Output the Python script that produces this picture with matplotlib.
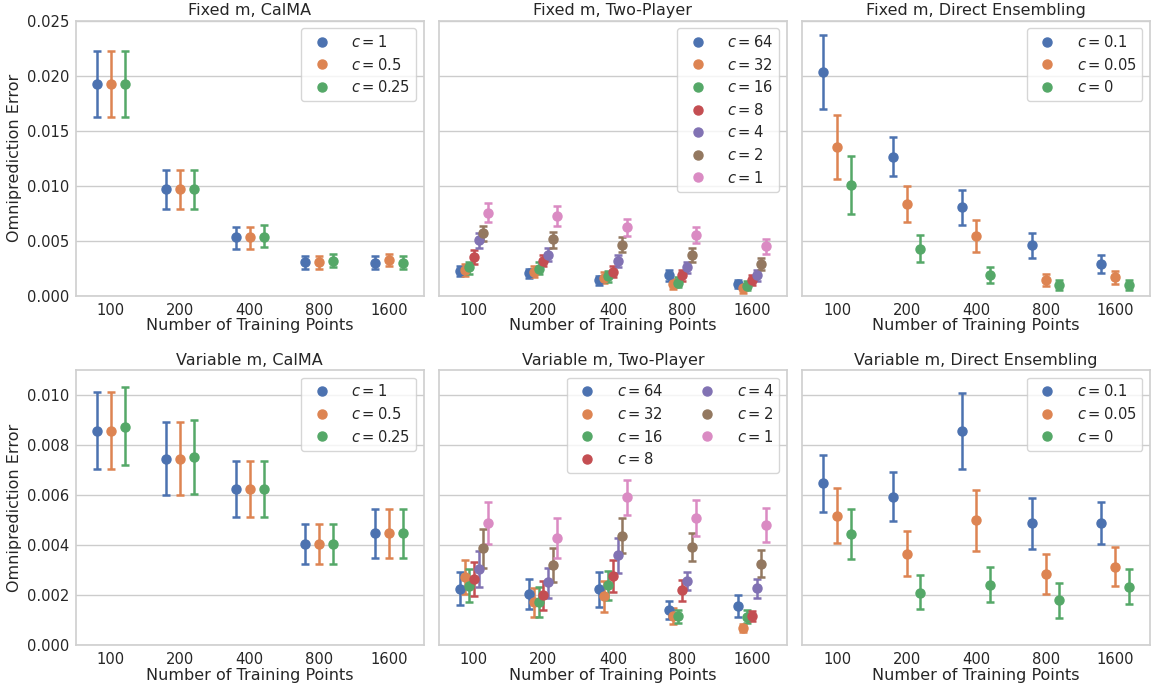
import matplotlib
matplotlib.use("Agg")
import matplotlib.pyplot as plt
import numpy as np
import seaborn as sns

sizes = ["100", "200", "400", "800", "1600"]

# ---- Fixed m, CalMA ----
calma_c = ["1", "0.5", "0.25"]
fixed_calma_mean = [[0.01924, 0.00967, 0.00530, 0.00303, 0.00300],
                    [0.01924, 0.00967, 0.00530, 0.00303, 0.00324],
                    [0.01924, 0.00967, 0.00539, 0.00315, 0.00300]]
fixed_calma_lo = [[0.01624, 0.00785, 0.00430, 0.00248, 0.00242],
                  [0.01624, 0.00785, 0.00430, 0.00248, 0.00270],
                  [0.01624, 0.00785, 0.00442, 0.00258, 0.00242]]
fixed_calma_hi = [[0.02227, 0.01142, 0.00627, 0.00364, 0.00360],
                  [0.02227, 0.01142, 0.00627, 0.00364, 0.00382],
                  [0.02227, 0.01142, 0.00639, 0.00376, 0.00360]]

# ---- Fixed m, Two-Player ----
tp_c = ["64", "32", "16", "8", "4", "2", "1"]
fixed_tp_mean = [[0.00227, 0.00206, 0.00142, 0.00188, 0.00108],
                 [0.00236, 0.00218, 0.00164, 0.00106, 0.00067],
                 [0.00258, 0.00248, 0.00182, 0.00121, 0.00090],
                 [0.00352, 0.00318, 0.00218, 0.00190, 0.00146],
                 [0.00506, 0.00373, 0.00312, 0.00258, 0.00188],
                 [0.00567, 0.00512, 0.00460, 0.00373, 0.00290],
                 [0.00752, 0.00727, 0.00621, 0.00552, 0.00450]]
fixed_tp_lo = [[0.00182, 0.00164, 0.00097, 0.00133, 0.00067],
               [0.00182, 0.00170, 0.00115, 0.00061, 0.00024],
               [0.00197, 0.00197, 0.00127, 0.00076, 0.00052],
               [0.00288, 0.00267, 0.00167, 0.00136, 0.00103],
               [0.00433, 0.00315, 0.00258, 0.00206, 0.00136],
               [0.00494, 0.00439, 0.00394, 0.00303, 0.00233],
               [0.00667, 0.00636, 0.00542, 0.00479, 0.00379]]
fixed_tp_hi = [[0.00273, 0.00248, 0.00176, 0.00236, 0.00145],
               [0.00288, 0.00267, 0.00218, 0.00152, 0.00106],
               [0.00309, 0.00303, 0.00227, 0.00167, 0.00133],
               [0.00418, 0.00373, 0.00273, 0.00236, 0.00188],
               [0.00570, 0.00433, 0.00370, 0.00309, 0.00236],
               [0.00636, 0.00582, 0.00530, 0.00439, 0.00342],
               [0.00842, 0.00812, 0.00697, 0.00621, 0.00515]]

# ---- Fixed m, Direct Ensembling ----
de_c = ["0.1", "0.05", "0"]
fixed_de_mean = [[0.02033, 0.01264, 0.00803, 0.00458, 0.00288],
                 [0.01348, 0.00830, 0.00542, 0.00142, 0.00167],
                 [0.01006, 0.00427, 0.00191, 0.00100, 0.00097]]
fixed_de_lo = [[0.01697, 0.01088, 0.00645, 0.00345, 0.00206],
               [0.01061, 0.00670, 0.00400, 0.00091, 0.00109],
               [0.00748, 0.00306, 0.00121, 0.00052, 0.00052]]
fixed_de_hi = [[0.02373, 0.01442, 0.00958, 0.00570, 0.00367],
               [0.01639, 0.00994, 0.00688, 0.00194, 0.00224],
               [0.01270, 0.00555, 0.00261, 0.00145, 0.00142]]

# ---- Variable m, CalMA ----
var_calma_mean = [[0.00857, 0.00746, 0.00626, 0.00404, 0.00448],
                  [0.00857, 0.00746, 0.00626, 0.00404, 0.00448],
                  [0.00874, 0.00753, 0.00626, 0.00404, 0.00448]]
var_calma_lo = [[0.00706, 0.00599, 0.00514, 0.00327, 0.00350],
                [0.00706, 0.00599, 0.00514, 0.00327, 0.00350],
                [0.00719, 0.00606, 0.00514, 0.00327, 0.00350]]
var_calma_hi = [[0.01011, 0.00893, 0.00738, 0.00484, 0.00546],
                [0.01011, 0.00893, 0.00738, 0.00484, 0.00546],
                [0.01031, 0.00901, 0.00738, 0.00484, 0.00546]]

# ---- Variable m, Two-Player ----
var_tp_mean = [[0.00226, 0.00204, 0.00224, 0.00142, 0.00156],
               [0.00274, 0.00172, 0.00197, 0.00118, 0.00068],
               [0.00238, 0.00172, 0.00241, 0.00116, 0.00113],
               [0.00266, 0.00200, 0.00278, 0.00221, 0.00118],
               [0.00306, 0.00252, 0.00362, 0.00258, 0.00228],
               [0.00389, 0.00322, 0.00439, 0.00394, 0.00327],
               [0.00490, 0.00430, 0.00592, 0.00511, 0.00480]]
var_tp_lo = [[0.00160, 0.00144, 0.00154, 0.00105, 0.00112],
             [0.00205, 0.00113, 0.00133, 0.00086, 0.00052],
             [0.00172, 0.00113, 0.00182, 0.00090, 0.00088],
             [0.00197, 0.00142, 0.00214, 0.00176, 0.00098],
             [0.00234, 0.00190, 0.00291, 0.00220, 0.00188],
             [0.00309, 0.00254, 0.00371, 0.00337, 0.00273],
             [0.00406, 0.00351, 0.00520, 0.00439, 0.00414]]
var_tp_hi = [[0.00294, 0.00265, 0.00294, 0.00178, 0.00200],
             [0.00343, 0.00228, 0.00258, 0.00149, 0.00086],
             [0.00305, 0.00234, 0.00299, 0.00142, 0.00141],
             [0.00335, 0.00257, 0.00341, 0.00262, 0.00138],
             [0.00377, 0.00311, 0.00431, 0.00295, 0.00266],
             [0.00466, 0.00391, 0.00508, 0.00451, 0.00382],
             [0.00572, 0.00508, 0.00661, 0.00582, 0.00548]]

# ---- Variable m, Direct Ensembling ----
var_de_mean = [[0.00647, 0.00594, 0.00856, 0.00489, 0.00488],
               [0.00517, 0.00367, 0.00500, 0.00287, 0.00315],
               [0.00445, 0.00211, 0.00243, 0.00181, 0.00235]]
var_de_lo = [[0.00533, 0.00498, 0.00703, 0.00387, 0.00405],
             [0.00409, 0.00276, 0.00377, 0.00207, 0.00238],
             [0.00346, 0.00145, 0.00173, 0.00110, 0.00165]]
var_de_hi = [[0.00760, 0.00692, 0.01010, 0.00590, 0.00571],
             [0.00627, 0.00456, 0.00622, 0.00365, 0.00393],
             [0.00545, 0.00280, 0.00314, 0.00250, 0.00304]]

sns.set_theme(style="whitegrid")
plt.rcParams["font.family"] = ["DejaVu Sans"]
colors = sns.color_palette("deep")


def draw_panel(ax, title, labels, mean, lo, hi, ncol=1):
    n = len(labels)
    offsets = np.linspace(-0.2, 0.2, n)
    x = np.arange(len(sizes))
    for k in range(n):
        m = np.array(mean[k])
        err = [m - np.array(lo[k]), np.array(hi[k]) - m]
        ax.errorbar(x + offsets[k], m, yerr=err, fmt="o", color=colors[k],
                    markersize=6.5, elinewidth=1.8, capsize=3, capthick=1.8,
                    label=f"$c = {labels[k]}$")
    ax.set_xticks(x)
    ax.set_xticklabels(sizes)
    ax.set_xlim(-0.5, len(sizes) - 0.5)
    ax.xaxis.grid(False)
    ax.set_title(title, fontsize=11.5, pad=4)
    ax.set_xlabel("Number of Training Points", fontsize=11.5, labelpad=0.5)
    ax.tick_params(labelsize=10.6, length=0, pad=5)
    handles, labs = ax.get_legend_handles_labels()
    handles = [h[0] for h in handles]
    ax.legend(handles, labs, loc="upper right", ncol=ncol, fontsize=10.6,
              handletextpad=1.0, columnspacing=2.0, labelspacing=0.45)
    for s in ax.spines.values():
        s.set_color("#d0d0d0")


fig, axes = plt.subplots(2, 3, figsize=(11.51, 6.88), dpi=100, sharey="row")
fig.subplots_adjust(left=0.066, right=0.999, top=0.97, bottom=0.062,
                    wspace=0.045, hspace=0.27)

draw_panel(axes[0, 0], "Fixed m, CalMA", calma_c, fixed_calma_mean, fixed_calma_lo, fixed_calma_hi)
draw_panel(axes[0, 1], "Fixed m, Two-Player", tp_c, fixed_tp_mean, fixed_tp_lo, fixed_tp_hi)
draw_panel(axes[0, 2], "Fixed m, Direct Ensembling", de_c, fixed_de_mean, fixed_de_lo, fixed_de_hi)
draw_panel(axes[1, 0], "Variable m, CalMA", calma_c, var_calma_mean, var_calma_lo, var_calma_hi)
draw_panel(axes[1, 1], "Variable m, Two-Player", tp_c, var_tp_mean, var_tp_lo, var_tp_hi, ncol=2)
draw_panel(axes[1, 2], "Variable m, Direct Ensembling", de_c, var_de_mean, var_de_lo, var_de_hi)

axes[0, 0].set_ylim(0, 0.025)
axes[0, 0].set_yticks(np.arange(0, 0.0251, 0.005))
axes[1, 0].set_ylim(0, 0.011)
axes[1, 0].set_yticks(np.arange(0, 0.0101, 0.002))
for ax in axes[:, 0]:
    ax.yaxis.set_major_formatter(matplotlib.ticker.FormatStrFormatter("%.3f"))
    ax.set_ylabel("Omniprediction Error", fontsize=11.5, labelpad=3)

fig.savefig("out.png", dpi=100)
